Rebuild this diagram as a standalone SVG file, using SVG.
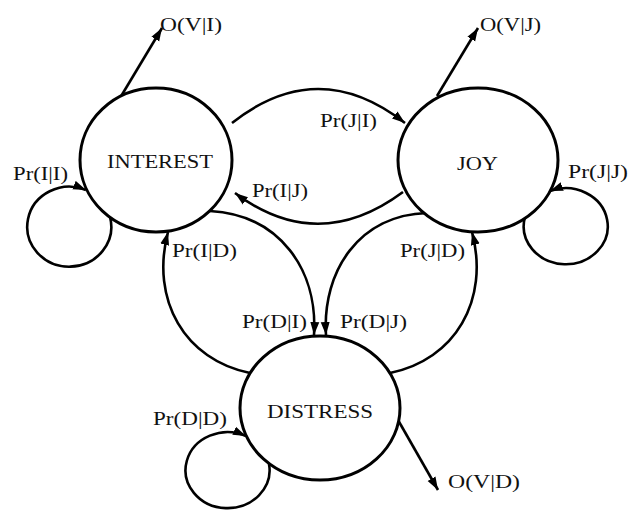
<svg xmlns="http://www.w3.org/2000/svg" width="630" height="514" viewBox="0 0 630 514">
<style>
.edge{fill:none;stroke:#000;stroke-width:2.6}
.node ellipse{fill:#fff;stroke:#000;stroke-width:3}
text{font-family:"Liberation Serif","Times New Roman",serif;fill:#111}
.lbl{font-size:18px}
.name{font-size:19px}
</style>
<defs>
<marker id="arr" markerUnits="userSpaceOnUse" markerWidth="14" markerHeight="10" refX="13" refY="5" orient="auto">
<path d="M0,0.5 L13,5 L0,9.5 Z" fill="#000"/>
</marker>
</defs>
<rect width="630" height="514" fill="#fff"/>
<g id="connectors">
<path class="edge" d="M110,217 A42,40 0 1 1 86,190" marker-end="url(#arr)"/>
<path class="edge" d="M525,217 A42,38 0 1 0 550,191" marker-end="url(#arr)"/>
<path class="edge" d="M269,464 A42,38 0 1 1 246,436" marker-end="url(#arr)"/>
<path class="edge" d="M120,98 L162,28" marker-end="url(#arr)"/>
<path class="edge" d="M437,96 L478,28" marker-end="url(#arr)"/>
<path class="edge" d="M398,420 L438,490" marker-end="url(#arr)"/>
<path class="edge" d="M232,123 Q318,55 405,123" marker-end="url(#arr)"/>
<path class="edge" d="M403,192 Q318,255 235,193" marker-end="url(#arr)"/>
<path class="edge" d="M250,373 C185,360 150,300 168,232" marker-end="url(#arr)"/>
<path class="edge" d="M390,373 C455,360 490,300 472,232" marker-end="url(#arr)"/>
<path class="edge" d="M210,211 C280,215 318,270 314,335" marker-end="url(#arr)"/>
<path class="edge" d="M427,213 C360,215 322,270 326,335" marker-end="url(#arr)"/>
</g>
<g id="interest" class="node">
<ellipse cx="156" cy="160" rx="76" ry="72"/>
<text class="name" x="107" y="168" textLength="106" lengthAdjust="spacingAndGlyphs">INTEREST</text>
</g>
<g id="joy" class="node">
<ellipse cx="478" cy="160" rx="80" ry="72"/>
<text class="name" x="457" y="170" textLength="41" lengthAdjust="spacingAndGlyphs">JOY</text>
</g>
<g id="distress" class="node">
<ellipse cx="320" cy="408" rx="80" ry="72"/>
<text class="name" x="267" y="418" textLength="106" lengthAdjust="spacingAndGlyphs">DISTRESS</text>
</g>
<g id="labels">
<text class="lbl" x="160" y="31" textLength="62" lengthAdjust="spacingAndGlyphs">O(V|I)</text>
<text class="lbl" x="480" y="31" textLength="61" lengthAdjust="spacingAndGlyphs">O(V|J)</text>
<text class="lbl" x="448" y="488" textLength="72" lengthAdjust="spacingAndGlyphs">O(V|D)</text>
<text class="lbl" x="320" y="127" textLength="57" lengthAdjust="spacingAndGlyphs">Pr(J|I)</text>
<text class="lbl" x="252" y="197" textLength="56" lengthAdjust="spacingAndGlyphs">Pr(I|J)</text>
<text class="lbl" x="13" y="180" textLength="55" lengthAdjust="spacingAndGlyphs">Pr(I|I)</text>
<text class="lbl" x="568" y="178" textLength="60" lengthAdjust="spacingAndGlyphs">Pr(J|J)</text>
<text class="lbl" x="172" y="257" textLength="65" lengthAdjust="spacingAndGlyphs">Pr(I|D)</text>
<text class="lbl" x="400" y="257" textLength="65" lengthAdjust="spacingAndGlyphs">Pr(J|D)</text>
<text class="lbl" x="242" y="328" textLength="65" lengthAdjust="spacingAndGlyphs">Pr(D|I)</text>
<text class="lbl" x="340" y="328" textLength="67" lengthAdjust="spacingAndGlyphs">Pr(D|J)</text>
<text class="lbl" x="153" y="425" textLength="74" lengthAdjust="spacingAndGlyphs">Pr(D|D)</text>
</g>
</svg>
